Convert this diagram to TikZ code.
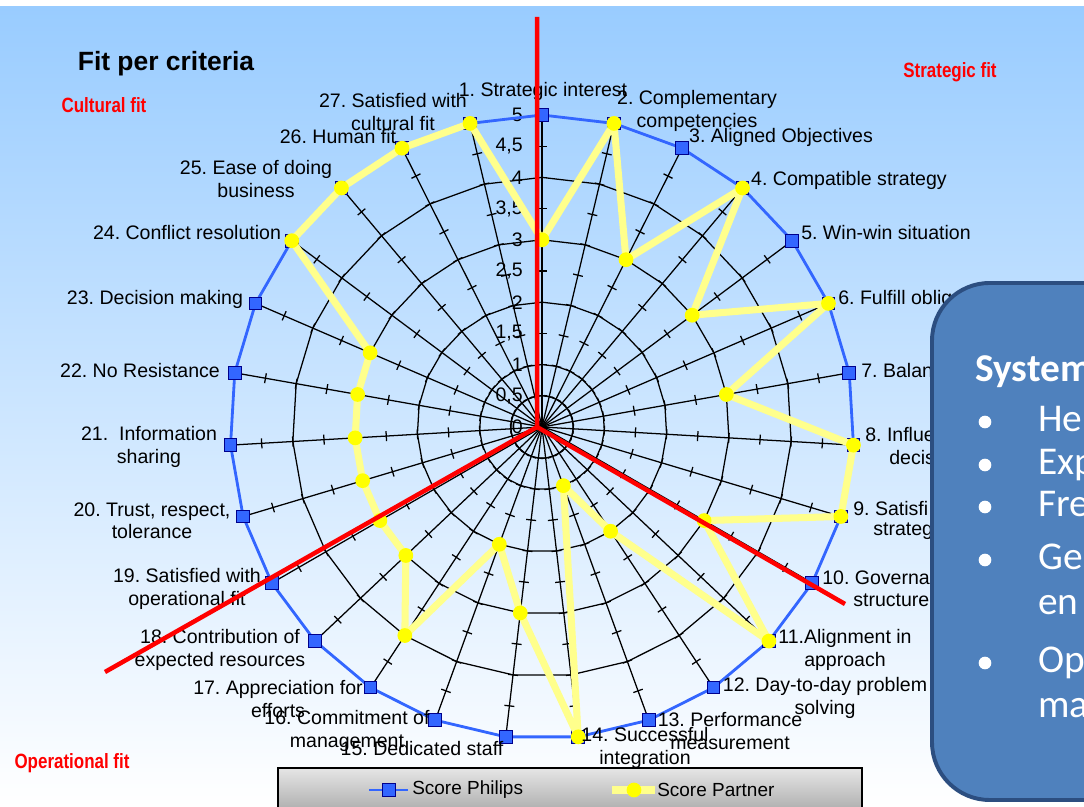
\documentclass[tikz,border=0pt]{standalone}
\usepackage{fontspec}
\setmainfont{Liberation Sans}
\newfontfamily\narrowfont[FakeStretch=0.82]{Liberation Sans}
\newfontfamily\slidefont{Carlito}
\usetikzlibrary{calc}

\definecolor{chartbg}{RGB}{153,204,255}
\definecolor{philipsblue}{RGB}{51,102,255}
\definecolor{philipsedge}{RGB}{0,0,140}
\definecolor{partneryellow}{RGB}{255,255,140}
\definecolor{markyellow}{RGB}{255,255,0}
\definecolor{slidefill}{RGB}{79,129,189}
\definecolor{slideedge}{RGB}{44,78,128}

\tikzset{
  gridline/.style={black, line width=0.9pt},
  philipsline/.style={draw=philipsblue, line width=2pt},
  philipsmark/.style={rectangle, draw=philipsedge, fill=philipsblue, line width=0.7pt, minimum size=9pt, inner sep=0pt},
  partnerline/.style={draw=partneryellow, line width=5pt, line join=round},
  partnermark/.style={circle, fill=markyellow, minimum size=10.5pt, inner sep=0pt},
  axislabel/.style={font=\fontsize{13.9}{16}\selectfont, align=center, inner sep=0pt},
  cutlabel/.style={axislabel, anchor=west},
  ticklabel/.style={font=\fontsize{13.9}{16}\selectfont, anchor=east, inner sep=0pt},
  fitline/.style={red, line width=3.2pt},
  fitlabel/.style={font=\narrowfont\bfseries\fontsize{14.7}{16}\selectfont, text=red, inner sep=0pt},
  legendtext/.style={font=\fontsize{13.5}{16}\selectfont, anchor=west, inner sep=0pt},
  slidetext/.style={font=\slidefont\fontsize{28}{32}\selectfont, text=white, anchor=base west, inner sep=0pt},
  slidedot/.style={circle, fill=white, minimum size=9pt, inner sep=0pt},
}

\begin{document}
\frenchspacing
\begin{tikzpicture}[x=0.025cm,y=0.025cm]
        \useasboundingbox (0,0) rectangle (1084,807);
        % Background of the chart area
        \fill[white] (0,0) rectangle (1084,807);
        \shade[top color=chartbg, bottom color=white] (0,0) rectangle (1084,800);

        % Scores per criterion (Philips scores 5 on all of them)
        \def\Unit{62.4}
        \def\Partner{{3,5,3,5,3,5,3,5,5,3,5,2,1,5,3,2,4,3,3,3,3,3,3,5,5,5,5}}
        \coordinate (O) at (542,380);

        \begin{scope}[shift={(O)}]
            % Points on the 27 spokes
            \foreach \k in {0,...,26} {
                \pgfmathsetmacro{\ang}{90-\k*360/27}
                \pgfmathsetmacro{\val}{\Partner[\k]}
                \coordinate (a\k) at (\ang:5*\Unit);
                \coordinate (p\k) at (\ang:\val*\Unit);
            }
            % Draw the rings
            \foreach \lev in {0.5,1,2,3,4,5}
                \draw[gridline] (90:\lev*\Unit) \foreach \k in {1,...,26} { -- (90-\k*360/27:\lev*\Unit) } -- cycle;
            % Draw the spokes and their ticks
            \foreach \k in {0,...,26} {
                \pgfmathsetmacro{\ang}{90-\k*360/27}
                \draw[gridline] (O) -- (a\k);
                \foreach \t in {0.5,1,...,4.5}
                    \draw[gridline] (\ang:\t*\Unit) ++(\ang+90:5) -- ++(\ang-90:10);
            }
            % Scale on the first spoke
            \foreach \v/\t [count=\i] in {0/0,0.5/{0,5},1/1,1.5/{1,5},2/2,2.5/{2,5},3/3,3.5/{3,5},4/4,4.5/{4,5},5/5}
                \node[ticklabel] (tick\i) at (-19,\v*\Unit) {\t};
        \end{scope}

        % Score Philips
        \draw[philipsline] (a0) \foreach \k in {1,...,26} { -- (a\k) } -- cycle;
        \foreach \k in {0,...,26}
            \node[philipsmark] (sq\k) at (a\k) {};
        % Score Partner
        \draw[partnerline] (p0) \foreach \k in {1,...,26} { -- (p\k) } -- cycle;
        \foreach \k in {0,...,26}
            \node[partnermark] (dot\k) at (p\k) {};

        % Criteria
        \foreach \x/\y/\txt [count=\i] in {
            543/716/{1. Strategic interest},
            697/696/{2. Complementary\\competencies},
            781/670/{3. Aligned Objectives},
            849/627/{4. Compatible strategy},
            886/574/{5. Win-win situation},
            845/157/{11.Alignment in\\approach},
            825/109/{12. Day-to-day problem\\solving},
            730/76/{13. Performance\\measurement},
            645/59/{14. Successful\\integration},
            422/58/{15. Dedicated staff},
            347/76/{16. Commitment of\\management},
            278/108/{17. Appreciation for\\efforts},
            220/157/{18. Contribution of\\expected resources},
            187/218/{19. Satisfied with\\operational fit},
            152/286/{20. Trust, respect,\\tolerance},
            149/360/{21.\ \ Information\\sharing},
            140/436/{22. No Resistance},
            155/508/{23. Decision making},
            187/574/{24. Conflict resolution},
            256/628/{25. Ease of doing\\business},
            338/670/{26. Human fit},
            393/695/{27. Satisfied with\\cultural fit}}
            \node[axislabel] (crit\i) at (\x,\y) {\txt};
        % Criteria partly hidden behind the slide box
        \foreach \x/\y/\txt [count=\i] in {
            838/508/{6. Fulfill obligat},
            861/436/{7. Balan},
            865/372/{8. Influe}, 889/349/{decis},
            853/298/{9. Satisfi}, 873/276/{strateg},
            822/229/{10. Governa}, 853/207/{structure}}
            \node[cutlabel] (cut\i) at (\x,\y) {\txt};

        % The three fit areas
        \coordinate (hub) at (537,380);
        \coordinate (topend) at (537,790);
        \coordinate (leftend) at (105,135);
        \coordinate (rightend) at (845,203);
        \draw[fitline] (topend) -- (hub) -- (leftend);
        \draw[fitline] (hub) -- (rightend);
        \node[fitlabel] (cultural) at (104,702) {Cultural fit};
        \node[fitlabel] (strategic) at (950,735) {Strategic fit};
        \node[fitlabel] (operational) at (72,44) {Operational fit};

        % Title
        \node[font=\bfseries\fontsize{18.8}{22}\selectfont, anchor=base, inner sep=0pt] (title) at (166,736) {Fit per criteria};

        % Legend
        \shade[top color=gray!20, middle color=white, bottom color=gray!70] (278,-10) rectangle (862,39);
        \draw[black, line width=0.8pt] (278,-10) rectangle (862,39);
        \coordinate (ph1) at (369,17);
        \coordinate (ph2) at (408,17);
        \coordinate (pa1) at (612,17);
        \coordinate (pa2) at (655,17);
        \draw[philipsline] (ph1) -- (ph2);
        \node[philipsmark] (legsq) at (389,17) {};
        \node[legendtext] (legph) at (412,17) {Score Philips};
        \draw[partnerline] (pa1) -- (pa2);
        \node[partnermark] (legdot) at (634,17) {};
        \node[legendtext] (legpa) at (657,17) {Score Partner};

        % Slide box on top of the chart
        \draw[fill=slidefill, draw=slideedge, line width=2.8pt, rounded corners=41pt] (932,7) rectangle (1160,524);
        \node[slidetext, font=\slidefont\bfseries\fontsize{28}{32}\selectfont] (slidehead) at (975,425) {System};
        \foreach \y/\txt [count=\i] in {375/He,332/Exp,290/Fre,237/Ge,192/en,134/Op,89/ma}
            \node[slidetext] (line\i) at (1038,\y) {\txt};
        \foreach \y [count=\i] in {385,342,300,247,144}
            \node[slidedot] (bullet\i) at (985,\y) {};
\end{tikzpicture}
\end{document}
